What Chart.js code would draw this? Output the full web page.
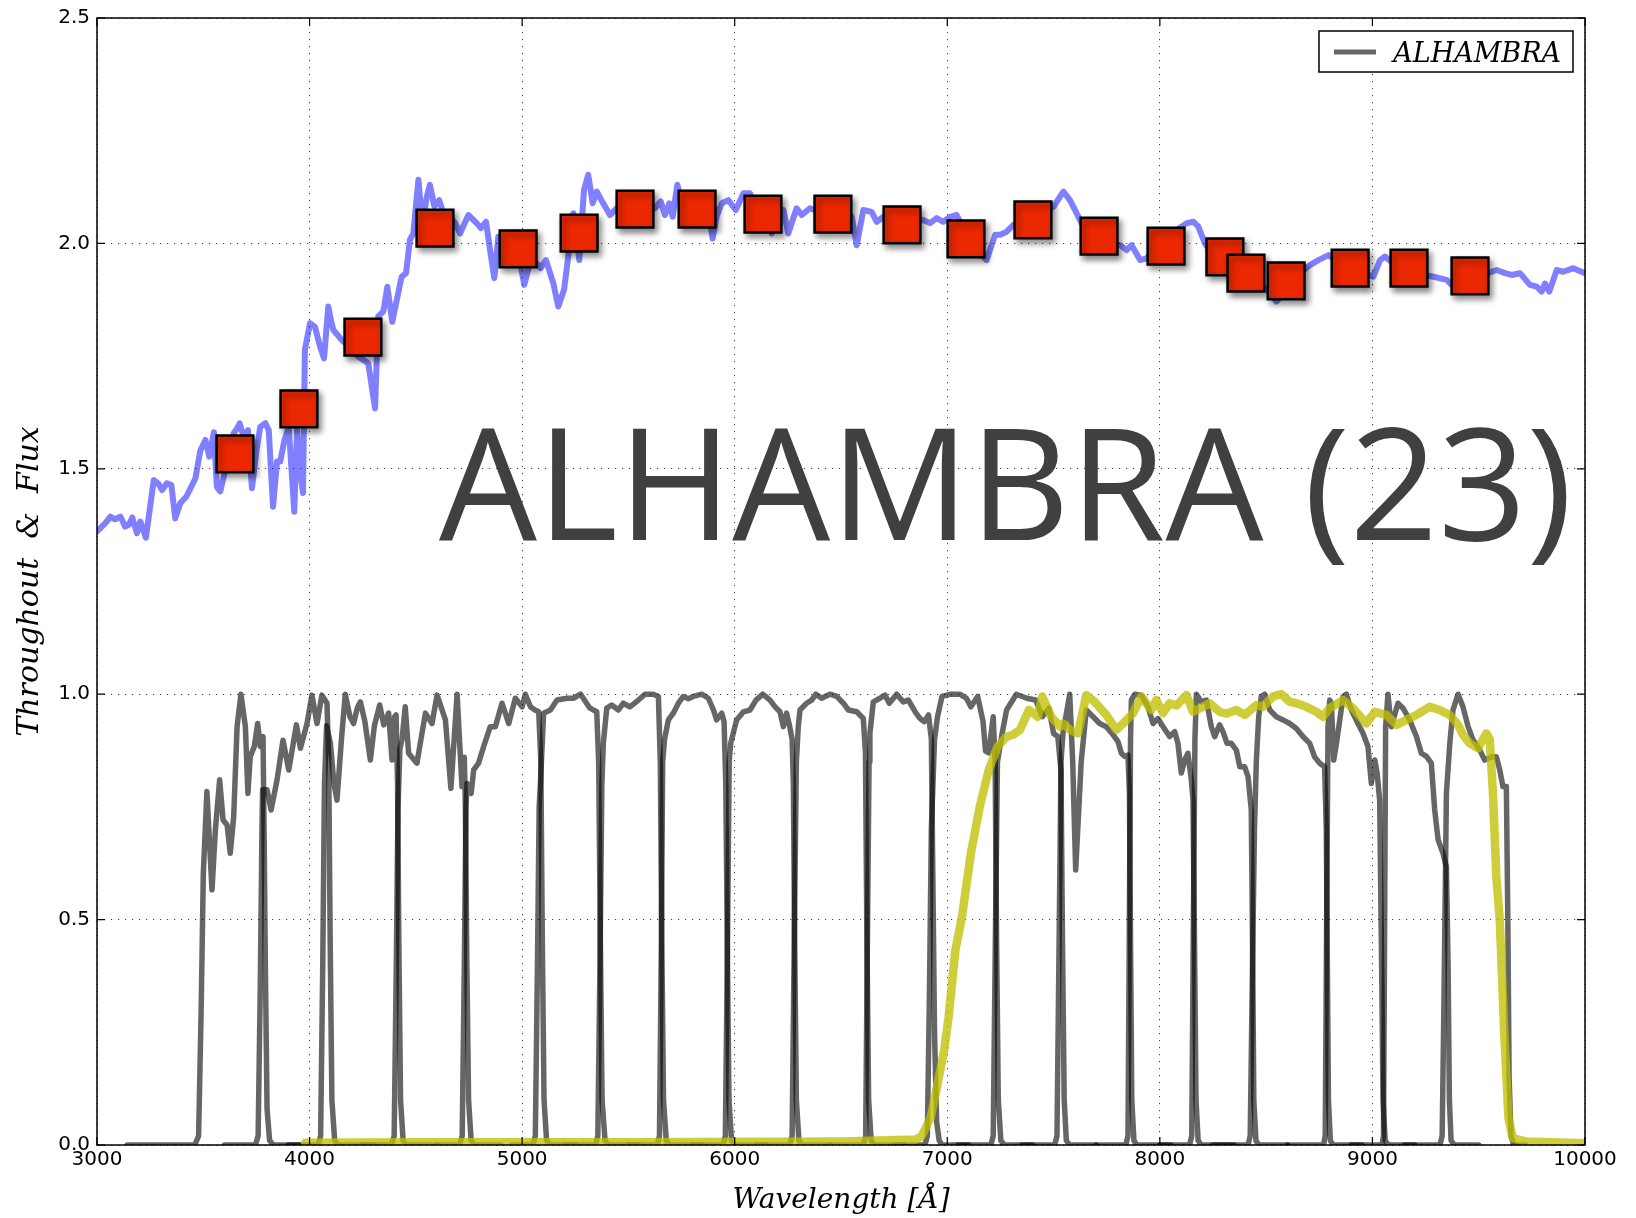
<!DOCTYPE html>
<html>
<head>
<meta charset="utf-8">
<script src="https://cdn.jsdelivr.net/npm/chart.js@4.4.1/dist/chart.umd.min.js"></script>
<style>
  html, body { margin: 0; padding: 0; background: #fff; }
</style>
</head>
<body>
<canvas id="sed" width="1636" height="1218"></canvas>
<script>
// galaxy spectrum (wavelength in A, flux scaled)
const SPECTRUM = [
  [3000,1.361],[3040,1.380],[3063,1.394],[3085,1.388],[3110,1.394],[3132,1.372],[3150,1.376],[3166,1.392],
  [3188,1.357],[3204,1.383],[3230,1.347],[3267,1.475],[3290,1.466],[3306,1.453],[3329,1.468],[3350,1.464],
  [3368,1.390],[3392,1.424],[3420,1.438],[3463,1.479],[3486,1.540],[3510,1.564],[3528,1.527],[3550,1.581],
  [3564,1.460],[3580,1.450],[3600,1.490],[3620,1.520],[3643,1.579],[3660,1.590],[3671,1.601],[3690,1.571],
  [3710,1.586],[3729,1.457],[3750,1.540],[3768,1.593],[3792,1.601],[3808,1.586],[3828,1.416],[3847,1.516],
  [3862,1.516],[3880,1.560],[3902,1.593],[3928,1.405],[3941,1.586],[3955,1.500],[3969,1.446],[3978,1.764],
  [4002,1.823],[4025,1.815],[4050,1.770],[4068,1.745],[4088,1.860],[4100,1.830],[4112,1.808],[4151,1.786],
  [4190,1.770],[4229,1.749],[4276,1.734],[4308,1.634],[4323,1.838],[4347,1.849],[4366,1.904],[4389,1.826],
  [4433,1.926],[4454,1.934],[4472,2.008],[4488,2.022],[4512,2.141],[4531,2.037],[4550,2.100],[4566,2.130],
  [4587,2.082],[4610,2.096],[4629,2.067],[4661,2.059],[4685,2.045],[4708,2.022],[4747,2.063],[4786,2.045],
  [4806,2.034],[4830,2.048],[4849,1.986],[4869,1.923],[4888,2.015],[4920,1.990],[4950,1.960],[4990,1.960],
  [5010,1.908],[5030,1.945],[5053,1.963],[5087,1.945],[5112,1.963],[5147,1.911],[5170,1.860],[5197,1.897],
  [5217,1.971],[5241,2.067],[5269,1.963],[5291,2.119],[5311,2.152],[5332,2.089],[5351,2.115],[5380,2.090],
  [5413,2.063],[5450,2.080],[5500,2.085],[5560,2.080],[5600,2.075],[5625,2.078],[5652,2.093],[5672,2.063],
  [5692,2.089],[5708,2.059],[5730,2.130],[5760,2.080],[5800,2.070],[5850,2.075],[5880,2.060],[5896,2.011],
  [5915,2.060],[5939,2.089],[5970,2.096],[6005,2.074],[6041,2.111],[6072,2.111],[6100,2.080],[6150,2.060],
  [6174,2.022],[6200,2.060],[6229,2.074],[6252,2.022],[6291,2.078],[6315,2.063],[6354,2.078],[6400,2.070],
  [6450,2.065],[6500,2.060],[6550,2.060],[6574,1.996],[6605,2.074],[6644,2.070],[6668,2.048],[6699,2.059],
  [6740,2.045],[6800,2.040],[6850,2.048],[6887,2.052],[6919,2.045],[6950,2.056],[6981,2.048],[7013,2.059],
  [7044,2.063],[7080,2.030],[7120,1.990],[7160,1.975],[7185,1.963],[7225,2.019],[7248,2.019],[7279,2.026],
  [7311,2.041],[7350,2.050],[7400,2.060],[7450,2.070],[7499,2.081],[7546,2.115],[7577,2.096],[7624,2.052],
  [7650,2.030],[7700,2.010],[7760,2.000],[7813,1.996],[7844,1.985],[7867,1.996],[7907,1.963],[7938,1.967],
  [7980,1.990],[8030,2.010],[8080,2.030],[8126,2.045],[8158,2.048],[8181,2.037],[8212,2.000],[8250,1.975],
  [8300,1.960],[8350,1.945],[8408,1.934],[8460,1.915],[8503,1.897],[8549,1.871],[8600,1.900],[8650,1.930],
  [8706,1.952],[8746,1.963],[8793,1.974],[8840,1.960],[8900,1.945],[8960,1.935],[9004,1.926],[9036,1.963],
  [9059,1.971],[9100,1.955],[9150,1.945],[9200,1.935],[9250,1.930],[9287,1.926],[9349,1.919],[9373,1.908],
  [9400,1.915],[9450,1.925],[9500,1.930],[9550,1.935],[9584,1.941],[9624,1.934],[9655,1.930],[9694,1.934],
  [9741,1.908],[9773,1.904],[9796,1.893],[9812,1.911],[9832,1.893],[9867,1.941],[9898,1.937],[9945,1.945],
  [10000,1.934]
];

// synthetic photometry
const PHOT_WAVE = [3649, 3950, 4251, 4590, 4981, 5268, 5531, 5823, 6133, 6462, 6787,
                   7088, 7403, 7714, 8029, 8306, 8405, 8594, 8895, 9172, 9459];
const PHOT_FLUX = [1.533, 1.633, 1.792, 2.034, 1.988, 2.023, 2.076, 2.076, 2.065, 2.065, 2.041,
                   2.010, 2.052, 2.016, 1.994, 1.970, 1.934, 1.917, 1.945, 1.945, 1.928];

// ALHAMBRA medium band throughputs
const A366 = [[3142,0],[3460,0],[3478,0.02],[3490,0.3],[3500,0.6],[3517,0.784],[3541,0.566],[3557,0.70],[3577,0.810],
  [3593,0.721],[3612,0.710],[3627,0.647],[3643,0.728],[3659,0.928],[3677,1.0],[3698,0.928],[3710,0.780],[3721,0.862],
  [3740,0.884],[3756,0.935],[3768,0.884],[3781,0.906],[3786,0.70],[3792,0.40],[3800,0.08],[3812,0.01],[3830,0],[3950,0]];
const A394 = [[3600,0],[3745,0],[3758,0.02],[3768,0.35],[3776,0.70],[3779,0.788],[3800,0.788],[3819,0.743],[3847,0.810],
  [3875,0.898],[3902,0.832],[3938,0.932],[3957,0.880],[3988,0.935],[4011,0.998],[4035,0.935],[4058,0.998],[4082,0.980],
  [4090,0.85],[4097,0.45],[4105,0.10],[4118,0.01],[4135,0],[4300,0]];
const A425 = [[3900,0],[4040,0],[4052,0.02],[4062,0.4],[4070,0.8],[4080,0.93],[4098,0.891],[4115,0.80],[4129,0.765],
  [4150,0.90],[4168,1.0],[4190,0.95],[4207,0.935],[4225,0.97],[4239,0.983],[4260,0.94],[4286,0.854],[4305,0.93],
  [4330,0.976],[4349,0.932],[4372,0.958],[4388,0.854],[4400,0.95],[4407,0.954],[4414,0.80],[4420,0.45],[4428,0.10],
  [4440,0.01],[4455,0],[4600,0]];
const A457 = [[4250,0],[4385,0],[4398,0.02],[4408,0.4],[4416,0.75],[4425,0.88],[4435,0.90],[4450,0.972],[4466,0.869],
  [4505,0.847],[4545,0.958],[4576,0.935],[4600,0.998],[4639,0.943],[4665,0.791],[4694,1.0],[4717,0.795],[4728,0.86],
  [4733,0.75],[4740,0.40],[4748,0.10],[4760,0.01],[4775,0],[4900,0]];
const A491 = [[4600,0],[4705,0],[4718,0.02],[4728,0.4],[4736,0.75],[4741,0.802],[4760,0.78],[4772,0.832],[4795,0.847],
  [4819,0.884],[4850,0.928],[4874,0.928],[4905,0.98],[4937,0.935],[4968,0.991],[5000,0.972],[5015,1.0],[5039,0.972],
  [5060,0.965],[5078,0.961],[5088,0.85],[5095,0.45],[5103,0.10],[5115,0.01],[5130,0],[5250,0]];
const A522 = [[4950,0],[5050,0],[5062,0.02],[5072,0.4],[5080,0.75],[5086,0.802],[5101,0.958],[5133,0.965],[5164,0.987],
  [5211,0.991],[5241,0.991],[5275,1.0],[5319,0.969],[5351,0.961],[5360,0.85],[5368,0.45],[5376,0.10],[5390,0.01],
  [5405,0],[5550,0]];
const A551 = [[5200,0],[5345,0],[5356,0.02],[5366,0.4],[5375,0.80],[5382,0.891],[5398,0.969],[5421,0.976],[5453,0.965],
  [5476,0.98],[5507,0.972],[5547,0.987],[5578,1.0],[5617,1.0],[5641,0.995],[5650,0.85],[5657,0.45],[5665,0.10],
  [5678,0.01],[5695,0],[5850,0]];
const A581 = [[5500,0],[5635,0],[5646,0.02],[5655,0.45],[5661,0.85],[5670,0.90],[5688,0.943],[5711,0.958],[5735,0.98],
  [5758,0.995],[5782,0.99],[5805,0.995],[5845,1.0],[5876,0.991],[5900,0.965],[5915,0.943],[5939,0.958],[5950,0.939],
  [5958,0.80],[5965,0.45],[5973,0.10],[5985,0.01],[6000,0],[6150,0]];
const A613 = [[5800,0],[5945,0],[5956,0.02],[5966,0.45],[5974,0.85],[5981,0.891],[6009,0.943],[6041,0.961],[6072,0.965],
  [6100,0.987],[6132,1.0],[6166,0.987],[6190,0.972],[6213,0.961],[6229,0.928],[6244,0.958],[6257,0.932],[6270,0.90],
  [6276,0.80],[6282,0.45],[6290,0.10],[6302,0.01],[6318,0],[6450,0]];
const A646 = [[6100,0],[6258,0],[6270,0.02],[6280,0.45],[6290,0.85],[6299,0.928],[6307,0.965],[6338,0.98],[6362,0.987],
  [6382,1.0],[6409,0.991],[6448,1.0],[6480,0.995],[6511,0.98],[6535,0.965],[6574,0.961],[6605,0.946],[6615,0.87],
  [6622,0.45],[6630,0.10],[6642,0.01],[6658,0],[6800,0]];
const A678 = [[6450,0],[6605,0],[6616,0.02],[6624,0.45],[6632,0.85],[6636,0.913],[6652,0.983],[6683,0.991],[6707,0.998],
  [6727,0.98],[6762,1.0],[6793,0.983],[6817,0.987],[6850,0.96],[6870,0.947],[6891,0.939],[6912,0.954],[6925,0.90],
  [6932,0.60],[6940,0.25],[6950,0.05],[6962,0.01],[6975,0],[7100,0]];
const A708 = [[6750,0],[6895,0],[6906,0.02],[6915,0.30],[6925,0.70],[6940,0.90],[6954,0.95],[6975,0.995],[7017,1.0],
  [7059,1.0],[7090,0.991],[7111,0.972],[7143,0.995],[7168,0.94],[7180,0.874],[7195,0.87],[7216,0.95],[7225,0.85],
  [7232,0.45],[7240,0.10],[7252,0.01],[7268,0],[7400,0]];
const A739 = [[7050,0],[7205,0],[7216,0.02],[7226,0.45],[7236,0.85],[7258,0.913],[7279,0.965],[7325,1.0],[7374,0.991],
  [7416,0.987],[7447,0.95],[7478,0.969],[7500,0.913],[7520,0.906],[7535,0.83],[7542,0.45],[7550,0.10],[7560,0.01],
  [7575,0],[7700,0]];
const A770 = [[7350,0],[7505,0],[7516,0.02],[7526,0.45],[7535,0.85],[7544,0.913],[7576,1.0],[7590,0.85],[7604,0.61],
  [7630,0.85],[7654,0.965],[7686,0.95],[7717,0.935],[7748,0.928],[7780,0.91],[7803,0.895],[7819,0.869],[7835,0.862],
  [7850,0.865],[7857,0.78],[7862,0.45],[7868,0.10],[7878,0.01],[7892,0],[8050,0]];
const A802 = [[7700,0],[7840,0],[7850,0.02],[7856,0.45],[7862,0.90],[7866,0.987],[7882,1.0],[7913,0.998],[7944,0.972],
  [7968,0.935],[7991,0.946],[8015,0.928],[8046,0.906],[8070,0.917],[8085,0.891],[8101,0.825],[8117,0.854],[8132,0.869],
  [8148,0.81],[8156,0.765],[8163,0.45],[8170,0.10],[8180,0.01],[8195,0],[8350,0]];
const A829 = [[8000,0],[8140,0],[8150,0.02],[8157,0.45],[8165,0.90],[8172,1.0],[8195,0.983],[8219,0.987],[8242,0.928],
  [8258,0.906],[8281,0.932],[8297,0.917],[8316,0.891],[8336,0.891],[8360,0.876],[8376,0.839],[8399,0.839],[8415,0.817],
  [8430,0.743],[8436,0.45],[8442,0.10],[8452,0.01],[8465,0],[8600,0]];
const A861 = [[8250,0],[8415,0],[8425,0.02],[8433,0.30],[8445,0.70],[8454,0.854],[8465,0.95],[8477,0.995],[8493,1.0],
  [8517,0.965],[8548,0.95],[8579,0.943],[8611,0.935],[8642,0.924],[8673,0.906],[8705,0.891],[8728,0.861],[8752,0.847],
  [8775,0.839],[8783,0.70],[8788,0.40],[8793,0.10],[8802,0.01],[8815,0],[8950,0]];
const A892 = [[8600,0],[8770,0],[8778,0.02],[8784,0.45],[8791,0.928],[8799,0.987],[8807,0.98],[8818,0.854],[8833,0.898],
  [8862,0.995],[8877,1.0],[8901,0.965],[8932,0.935],[8956,0.913],[8979,0.884],[8995,0.802],[9011,0.854],[9022,0.825],
  [9034,0.765],[9042,0.45],[9050,0.10],[9060,0.01],[9075,0],[9200,0]];
const A921 = [[8900,0],[9045,0],[9052,0.02],[9057,0.45],[9062,0.928],[9073,1.0],[9089,0.928],[9120,0.98],[9144,0.969],
  [9175,0.943],[9207,0.906],[9230,0.869],[9254,0.862],[9277,0.847],[9293,0.743],[9309,0.677],[9332,0.647],[9348,0.617],
  [9356,0.40],[9362,0.10],[9370,0.01],[9385,0],[9500,0]];
const A948 = [[9150,0],[9318,0],[9328,0.02],[9336,0.30],[9348,0.78],[9364,0.891],[9379,0.965],[9403,1.0],[9426,0.972],
  [9450,0.928],[9473,0.899],[9505,0.876],[9528,0.854],[9559,0.861],[9583,0.861],[9599,0.832],[9614,0.795],[9630,0.795],
  [9637,0.50],[9643,0.15],[9652,0.02],[9665,0],[9720,0]];

const FILTERS = [A366, A394, A425, A457, A491, A522, A551, A581, A613, A646,
                 A678, A708, A739, A770, A802, A829, A861, A892, A921, A948];

// broad band (F814W)
const F814W = [[3980,0.005],[4500,0.006],[5500,0.006],[6500,0.008],[6850,0.012],[6880,0.02],[6922,0.061],[6954,0.135],
  [6985,0.209],[7006,0.283],[7038,0.432],[7069,0.506],[7111,0.647],[7153,0.751],[7195,0.832],[7237,0.884],[7279,0.906],
  [7310,0.91],[7342,0.921],[7384,0.965],[7426,0.95],[7447,0.995],[7489,0.95],[7531,0.928],[7544,0.935],[7580,0.92],
  [7615,0.913],[7654,0.998],[7693,0.983],[7748,0.954],[7795,0.921],[7827,0.935],[7874,0.958],[7913,0.995],[7960,0.965],
  [7983,0.987],[8015,0.958],[8046,0.98],[8078,0.975],[8125,0.998],[8156,0.961],[8203,0.972],[8234,0.98],[8281,0.961],
  [8313,0.957],[8360,0.965],[8399,0.954],[8454,0.976],[8485,0.972],[8532,0.995],[8572,1.0],[8611,0.983],[8642,0.98],
  [8689,0.972],[8736,0.961],[8768,0.95],[8799,0.969],[8862,0.987],[8909,0.969],[8971,0.935],[9011,0.961],[9066,0.954],
  [9113,0.932],[9160,0.943],[9207,0.954],[9269,0.972],[9317,0.965],[9364,0.954],[9403,0.932],[9426,0.91],[9458,0.891],
  [9497,0.88],[9536,0.913],[9552,0.90],[9567,0.78],[9583,0.595],[9599,0.499],[9620,0.25],[9640,0.06],[9660,0.015],
  [9720,0.008],[10000,0.004]];

const X_TICKS = [3000, 4000, 5000, 6000, 7000, 8000, 9000, 10000];
const Y_TICKS = [0.0, 0.5, 1.0, 1.5, 2.0, 2.5];

function pts(arr) {
  return arr.map(p => ({x: p[0], y: p[1]}));
}

const GRAY = 'rgba(0,0,0,0.6)';
const SERIF = '"DejaVu Serif"';

// drop shadow under the photometry squares
const shadow = {
  id: 'shadow',
  beforeDatasetDraw(chart, args) {
    if (args.meta.label !== 'photometry') return;
    const ctx = chart.ctx;
    ctx.save();
    ctx.shadowColor = 'rgba(0,0,0,0.45)';
    ctx.shadowBlur = 6;
    ctx.shadowOffsetX = 3;
    ctx.shadowOffsetY = 4;
  },
  afterDatasetDraw(chart, args) {
    if (args.meta.label === 'photometry') chart.ctx.restore();
  }
};

// matplotlib-ish frame, inner ticks, legend and the big label
const decor = {
  id: 'decor',
  afterDraw(chart) {
    const {ctx, chartArea: a, scales: {x, y}} = chart;
    ctx.save();
    ctx.strokeStyle = '#000';
    ctx.lineWidth = 1.5;
    ctx.strokeRect(a.left, a.top, a.right - a.left, a.bottom - a.top);

    ctx.lineWidth = 1.2;
    ctx.beginPath();
    X_TICKS.forEach(v => {
      const px = x.getPixelForValue(v);
      ctx.moveTo(px, a.bottom); ctx.lineTo(px, a.bottom - 8);
      ctx.moveTo(px, a.top); ctx.lineTo(px, a.top + 8);
    });
    Y_TICKS.forEach(v => {
      const py = y.getPixelForValue(v);
      ctx.moveTo(a.left, py); ctx.lineTo(a.left + 8, py);
      ctx.moveTo(a.right, py); ctx.lineTo(a.right - 8, py);
    });
    ctx.stroke();

    // legend
    const lx = a.right - 266, ly = a.top + 13;
    ctx.fillStyle = '#fff';
    ctx.fillRect(lx, ly, 254, 41);
    ctx.lineWidth = 1.5;
    ctx.strokeStyle = '#000';
    ctx.strokeRect(lx, ly, 254, 41);
    ctx.strokeStyle = GRAY;
    ctx.lineWidth = 5;
    ctx.beginPath();
    ctx.moveTo(lx + 15, ly + 21);
    ctx.lineTo(lx + 57, ly + 21);
    ctx.stroke();
    ctx.fillStyle = '#000';
    ctx.font = 'italic 27px ' + SERIF;
    ctx.textBaseline = 'alphabetic';
    ctx.textAlign = 'right';
    ctx.fillText('ALHAMBRA', lx + 242, ly + 31);

    // big label
    ctx.fillStyle = '#404040';
    ctx.textAlign = 'left';
    ctx.font = '155px "Open Sans"';
    ctx.fillText('ALHAMBRA (23)', a.left + 342, a.top + 522);
    ctx.restore();
  }
};

const datasets = [
  {
    label: 'photometry',
    data: PHOT_WAVE.map((w, i) => ({x: w, y: PHOT_FLUX[i]})),
    showLine: false,
    pointStyle: 'rect',
    pointRadius: 26,
    pointBackgroundColor: '#ec2800',
    pointBorderColor: '#000',
    pointBorderWidth: 2.5,
    order: 0
  },
  {
    label: 'spectrum',
    data: pts(SPECTRUM),
    borderColor: 'rgba(0,0,255,0.5)',
    borderWidth: 6,
    order: 1
  },
  {
    label: 'F814W',
    data: pts(F814W),
    borderColor: 'rgba(191,191,0,0.77)',
    borderWidth: 8.5,
    order: 2
  }
];
FILTERS.forEach((f, i) => {
  datasets.push({
    label: i === 0 ? 'ALHAMBRA' : '',
    data: pts(f),
    borderColor: GRAY,
    borderWidth: 5.5,
    order: 3
  });
});

Chart.defaults.color = '#000';
Chart.defaults.font.family = '"DejaVu Sans"';
Chart.defaults.font.size = 20;

new Chart(document.getElementById('sed'), {
  type: 'line',
  data: { datasets },
  plugins: [shadow, decor],
  options: {
    responsive: false,
    animation: false,
    layout: { autoPadding: false, padding: { left: 0, top: 18, right: 51, bottom: 0 } },
    elements: {
      point: { radius: 0, hoverRadius: 0 },
      line: { tension: 0, borderJoinStyle: 'round', borderCapStyle: 'round', fill: false }
    },
    plugins: { legend: { display: false }, tooltip: { enabled: false } },
    scales: {
      x: {
        type: 'linear',
        min: 3000, max: 10000,
        afterFit: s => { s.height = 73; s.paddingLeft = 0; s.paddingRight = 0; },
        afterBuildTicks: s => { s.ticks = X_TICKS.map(v => ({value: v})); },
        ticks: { padding: 3, maxRotation: 0, callback: v => String(v) },
        grid: { color: 'rgba(0,0,0,0.75)', lineWidth: 1, drawTicks: false },
        border: { display: false, dash: [1.2, 5.8] },
        title: {
          display: true,
          text: 'Wavelength [\u00c5]',
          font: { family: SERIF, style: 'italic', size: 28 },
          padding: { top: 4, bottom: 0 }
        }
      },
      y: {
        min: 0, max: 2.5,
        afterFit: s => { s.width = 97; s.paddingTop = 0; s.paddingBottom = 0; },
        afterBuildTicks: s => { s.ticks = Y_TICKS.map(v => ({value: v})); },
        ticks: { padding: 7, callback: v => v.toFixed(1) },
        grid: { color: 'rgba(0,0,0,0.75)', lineWidth: 1, drawTicks: false },
        border: { display: false, dash: [1.2, 5.8] },
        title: {
          display: true,
          text: 'Throughout  &  Flux',
          font: { family: SERIF, style: 'italic', size: 30 },
          padding: { top: 12, bottom: 0 }
        }
      }
    }
  }
});
</script>
</body>
</html>
